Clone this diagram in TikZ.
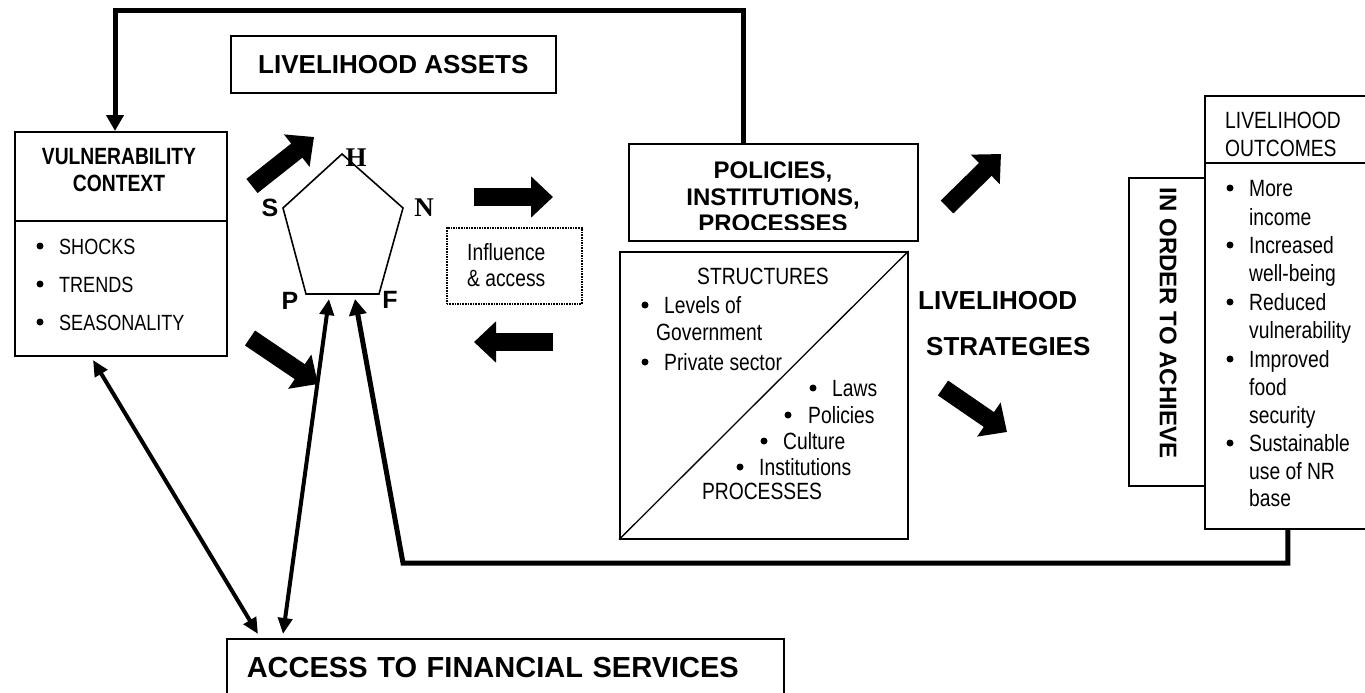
\documentclass[tikz,border=0pt]{standalone}
\usepackage{fontspec}
\setmainfont{Liberation Sans}
\newfontfamily\narrowfont[FakeStretch=0.82]{Liberation Sans}
\newfontfamily\timesfont{Liberation Serif}
\usetikzlibrary{arrows.meta,calc}

\tikzset{
  box/.style={draw, line width=1.6pt, inner sep=0pt, anchor=north west},
  plain/.style={inner sep=0pt, anchor=base west, font=\fontsize{23.5}{28}\narrowfont},
  small/.style={inner sep=0pt, anchor=base west, font=\fontsize{22}{26}\narrowfont},
  head/.style={inner sep=0pt, anchor=base, font=\fontsize{23.5}{27}\narrowfont\bfseries},
  boldtxt/.style={inner sep=0pt, anchor=base, font=\fontsize{24}{28}\selectfont\bfseries},
  bigtxt/.style={inner sep=0pt, anchor=base west, font=\fontsize{26}{30}\selectfont\bfseries},
  serifletter/.style={inner sep=0pt, font=\fontsize{27}{30}\timesfont\bfseries},
  sansletter/.style={inner sep=0pt, font=\fontsize{25}{30}\selectfont\bfseries},
  fat/.style={line width=18pt, -{Triangle[length=22pt,width=40pt]}},
  feedback/.style={line width=5pt, -{Triangle[length=16pt,width=17pt]}},
  twoway/.style={line width=4pt, {Triangle[length=16pt,width=14pt]}-{Triangle[length=16pt,width=14pt]}}
}

\begin{document}
\begin{tikzpicture}[x=1pt, y=-1pt]
  \clip (0,0) rectangle (1365,693);

  % assets title
  \node[box, minimum width=325pt, minimum height=57pt,
        font=\fontsize{26}{30}\selectfont\bfseries] (assets) at (230,35) {LIVELIHOOD ASSETS};

  % vulnerability context
  \node[box, minimum width=212pt, minimum height=224pt] (vuln) at (14,131) {};
  \draw[line width=1.6pt] (vuln.west |- 0,221) -- (vuln.east |- 0,221);
  \node[head] (vt1) at (119,164) {VULNERABILITY};
  \node[head] (vt2) at (119,191) {CONTEXT};
  \fill (40,246) circle (3.5pt);
  \node[small] (vb1) at (59,254) {SHOCKS};
  \fill (40,284) circle (3.5pt);
  \node[small] (vb2) at (59,292) {TRENDS};
  \fill (40,322) circle (3.5pt);
  \node[small] (vb3) at (59,330) {SEASONALITY};

  % asset pentagon
  \coordinate (pH) at (342,154);
  \coordinate (pN) at (403,208);
  \coordinate (pF) at (379,294);
  \coordinate (pP) at (306,294);
  \coordinate (pS) at (283,208);
  \draw[line width=1.6pt] (pH) -- (pN) -- (pF) -- (pP) -- (pS) -- cycle;
  \node[serifletter] (lH) at (356,158) {H};
  \node[serifletter] (lN) at (424,208) {N};
  \node[sansletter] (lS) at (270,208) {S};
  \node[sansletter] (lP) at (290,301) {P};
  \node[sansletter] (lF) at (390,300) {F};

  % influence
  \node[box, densely dotted, minimum width=135pt, minimum height=76pt] (infl) at (446,227) {};
  \node[plain] (infl1) at (467,260) {Influence};
  \node[plain] (infl2) at (467,286) {\& access};

  % policies, institutions, processes
  \node[box, minimum width=289pt, minimum height=97pt] (policies) at (628,143) {};
  \begin{scope}
    \clip (628,143) rectangle (917,229);
    \node[boldtxt] (pol1) at (773,178) {POLICIES,};
    \node[boldtxt] (pol2) at (773,205) {INSTITUTIONS,};
    \node[boldtxt] (pol3) at (773,231) {PROCESSES};
  \end{scope}

  % structures / processes
  \node[box, minimum width=288pt, minimum height=287pt] (struct) at (619,251) {};
  \draw[line width=1.3pt] (struct.south west) -- (struct.north east);
  \node[plain, anchor=base] (st0) at (763,284) {STRUCTURES};
  \fill (645,305) circle (3.5pt);
  \node[plain] (st1) at (664,313) {Levels of};
  \node[plain] (st2) at (656,340) {Government};
  \fill (645,362) circle (3.5pt);
  \node[plain] (st3) at (664,370) {Private sector};
  \fill (813,388) circle (3.5pt);
  \node[plain] (pr1) at (832,396) {Laws};
  \fill (788,415) circle (3.5pt);
  \node[plain] (pr2) at (808,423) {Policies};
  \fill (764,441) circle (3.5pt);
  \node[plain] (pr3) at (783,449) {Culture};
  \fill (740,467) circle (3.5pt);
  \node[plain] (pr4) at (759,475) {Institutions};
  \node[plain, anchor=base] (pr0) at (762,499) {PROCESSES};

  % strategies
  \node[bigtxt] (strat1) at (918,309) {LIVELIHOOD};
  \node[bigtxt] (strat2) at (926,355) {STRATEGIES};

  % in order to achieve
  \node[box, minimum width=76pt, minimum height=308pt] (order) at (1128,177) {};
  \node[boldtxt, anchor=center, rotate=-90] (ordertxt) at (1168,323) {IN ORDER TO ACHIEVE};

  % outcomes
  \node[box, minimum width=166pt, minimum height=433pt] (outcomes) at (1204,95) {};
  \draw[line width=1.6pt] (outcomes.west |- 0,163) -- (outcomes.east |- 0,163);
  \node[plain] (oc0) at (1225,128) {LIVELIHOOD};
  \node[plain] (oc00) at (1225,156) {OUTCOMES};
  \fill (1230,188) circle (3.5pt);
  \node[plain] (oc1) at (1249,196) {More};
  \node[plain] (oc2) at (1249,225) {income};
  \fill (1230,245) circle (3.5pt);
  \node[plain] (oc3) at (1249,253) {Increased};
  \node[plain] (oc4) at (1249,281) {well-being};
  \fill (1230,302) circle (3.5pt);
  \node[plain] (oc5) at (1249,310) {Reduced};
  \node[plain] (oc6) at (1249,338) {vulnerability};
  \fill (1230,359) circle (3.5pt);
  \node[plain] (oc7) at (1249,367) {Improved};
  \node[plain] (oc8) at (1249,395) {food};
  \node[plain] (oc9) at (1249,423) {security};
  \fill (1230,443) circle (3.5pt);
  \node[plain] (oc10) at (1249,451) {Sustainable};
  \node[plain] (oc11) at (1249,479) {use of NR};
  \node[plain] (oc12) at (1249,506) {base};

  % financial services
  \node[box, font=\fontsize{29}{34}\selectfont\bfseries, minimum height=58pt,
        text width=517pt, inner xsep=20pt, align=left] (access) at (226,638) {ACCESS TO FINANCIAL SERVICES};

  % block arrows
  \draw[fat] (252,186) -- (314,137);
  \draw[fat] (250,338) -- (318,384);
  \draw[fat] (474,197) -- (553,197);
  \draw[fat] (553,342) -- (474,342);
  \draw[fat] (947,207) -- (1001,154);
  \draw[fat] (943,388) -- (1007,432);

  % feedback lines
  \coordinate (topleft) at (115,11);
  \coordinate (topright) at (743,11);
  \draw[feedback] (policies.north -| topright) -- (topright) -- (topleft) -- (topleft |- vuln.north);
  \coordinate (botleft) at (403,563);
  \coordinate (pentin1) at (329,299);
  \coordinate (pentin2) at (355,299);
  \draw[feedback] (outcomes.south) |- (botleft) -- (pentin2);

  % links to financial services
  \coordinate (vulnout) at (93,360);
  \coordinate (accin1) at (258,634);
  \coordinate (accin2) at (283,634);
  \draw[twoway] (vulnout) -- (accin1);
  \draw[twoway] (pentin1) -- (accin2);
\end{tikzpicture}
\end{document}
